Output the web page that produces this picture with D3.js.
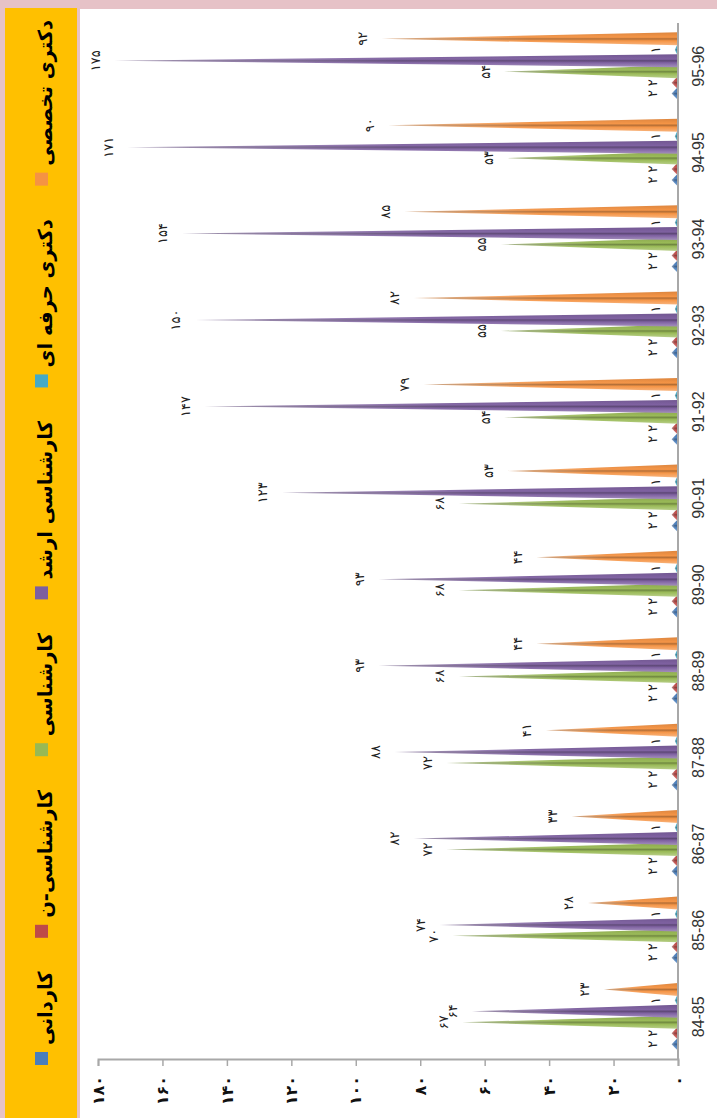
<!DOCTYPE html>
<html><head><meta charset="utf-8">
<script src="https://cdn.jsdelivr.net/npm/d3@7"></script>
<style>body{margin:0;background:#e6c2c7;} svg{display:block}</style>
</head><body>
<svg id="c" width="717" height="1118"></svg>
<script>
// ---- data ----
const categories = ["84-85","85-86","86-87","87-88","88-89","89-90","90-91","91-92","92-93","93-94","94-95","95-96"];
const seriesNames = ["کاردانی","کارشناسی-ن","کارشناسی","کارشناسی ارشد","دکتری حرفه ای","دکتری تخصصی"];
const seriesColors = ["#4a7ebb","#be4b48","#98b954","#7d5fa0","#46aac5","#f59343"];
const kardani          = [2,2,2,2,2,2,2,2,2,2,2,2];
const karshenasiN      = [2,2,2,2,2,2,2,2,2,2,2,2];
const karshenasi       = [67,70,72,72,68,68,68,54,55,55,53,54];
const karshenasiArshad = [64,74,82,88,93,93,123,147,150,154,171,175];
const doktoraHerfei    = [1,1,1,1,1,1,1,1,1,1,1,1];
const doktoraTakhassosi= [23,28,33,41,44,44,53,79,82,85,90,92];
const valueTicks = [0,20,40,60,80,100,120,140,160,180];
const seriesValues = [kardani, karshenasiN, karshenasi, karshenasiArshad, doktoraHerfei, doktoraTakhassosi];

const fa = d => String(d).replace(/\d/g, c => "۰۱۲۳۴۵۶۷۸۹"[+c]);

const svg = d3.select("#c");
const W = 717, H = 1118;
// background panels
svg.append("rect").attr("x",0).attr("y",0).attr("width",W).attr("height",H).attr("fill","#e6c2c7");
svg.append("rect").attr("x",5).attr("y",8).attr("width",72).attr("height",H-8).attr("fill","#ffc000");
svg.append("rect").attr("x",80).attr("y",9).attr("width",W-80).attr("height",H-9).attr("fill","#ffffff");

const defs = svg.append("defs");
// fade mask along spike length
const fg = defs.append("linearGradient").attr("id","fadeG").attr("x1",0).attr("y1",1).attr("x2",0).attr("y2",0);
fg.append("stop").attr("offset",0).attr("stop-color","#fff");
fg.append("stop").attr("offset",0.5).attr("stop-color","#f0f0f0");
fg.append("stop").attr("offset",0.88).attr("stop-color","#999");
fg.append("stop").attr("offset",1).attr("stop-color","#555");
defs.append("mask").attr("id","fade").attr("maskContentUnits","objectBoundingBox")
  .append("rect").attr("x",-0.1).attr("y",-0.1).attr("width",1.2).attr("height",1.2).attr("fill","url(#fadeG)");
seriesColors.forEach((c,i)=>{
  const g = defs.append("linearGradient").attr("id","sg"+i).attr("x1",0).attr("y1",0).attr("x2",1).attr("y2",0);
  const col = d3.color(c);
  g.append("stop").attr("offset",0).attr("stop-color", d3.interpolateRgb(c,"#fff")(0.3));
  g.append("stop").attr("offset",0.35).attr("stop-color", c);
  g.append("stop").attr("offset",0.5).attr("stop-color", col.darker(0.9));
  g.append("stop").attr("offset",0.62).attr("stop-color", c);
  g.append("stop").attr("offset",1).attr("stop-color", col.darker(0.3));
});

// rotated chart frame: screen x = uy, screen y = 1118 - ux
const g = svg.append("g").attr("transform","translate(0,1118) rotate(-90)");

const x = d3.scaleBand().domain(categories).range([58,1095]).padding(0);
const x1 = d3.scaleBand().domain(d3.range(seriesNames.length)).range([x.bandwidth()*0.12, x.bandwidth()*0.88]);
const y = d3.scaleLinear().domain([0,180]).range([678,98]);

// spikes
const hw = 6.5;
seriesValues.forEach((vals, si) => {
  vals.forEach((v, ci) => {
    const cx = x(categories[ci]) + x1(si) + x1.bandwidth()/2;
    const y0 = y(0), yt = y(v);
    g.append("path")
      .attr("d", `M${cx-hw},${y0}L${cx+hw},${y0}L${cx},${yt}Z`)
      .attr("fill","url(#sg"+si+")")
      .attr("mask","url(#fade)");
  });
});

// category axis (horizontal in frame)
g.append("line").attr("x1",58).attr("x2",1095).attr("y1",y(0)).attr("y2",y(0))
  .attr("stroke","#a8a8a8").attr("stroke-width",2);
g.selectAll(".cl").data(categories).enter().append("text")
  .attr("x", d => x(d)+x.bandwidth()/2).attr("y", 700)
  .attr("text-anchor","middle").attr("dominant-baseline","middle")
  .attr("font-family","Liberation Sans, Arial").attr("font-size",16).attr("fill","#333")
  .text(d=>d);

// value axis
const ax = g.append("g").attr("transform","translate(58,0)")
  .call(d3.axisLeft(y).tickValues(valueTicks).tickSize(6).tickPadding(10).tickFormat(fa));
ax.select(".domain").attr("stroke","#a8a8a8").attr("stroke-width",2);
ax.selectAll(".tick line").attr("stroke","#a8a8a8").attr("stroke-width",1.5);
ax.selectAll(".tick text").attr("font-family","DejaVu Sans").attr("font-weight","bold")
  .attr("font-size",16).attr("fill","#111");

// data labels
seriesValues.forEach((vals, si) => {
  vals.forEach((v, ci) => {
    const cx = x(categories[ci]) + x1(si) + x1.bandwidth()/2;
    g.append("text").attr("x",cx).attr("y",y(v)-18)
      .attr("text-anchor","middle").attr("dominant-baseline","middle")
      .attr("font-family","DejaVu Sans").attr("font-size",13)
      .attr("fill","#222").text(fa(v));
  });
});

// legend (top of frame -> left strip on screen)
const lg = g.append("g");
const items = seriesNames.map((n,i)=>{
  const it = lg.append("g");
  it.append("rect").attr("width",13).attr("height",13).attr("y",35).attr("fill",seriesColors[i]);
  const t = it.append("text").attr("x",20).attr("y",46)
    .attr("font-family","DejaVu Sans").attr("font-weight","bold").attr("font-size",19.5)
    .attr("fill","#000").attr("dominant-baseline","middle").text(n);
  return {it, w: 20 + t.node().getComputedTextLength()};
});
const startX = 53, endX = 1098;
const total = d3.sum(items, d=>d.w);
const gap = (endX - startX - total)/(items.length-1);
let cur = startX;
items.forEach(d=>{ d.it.attr("transform",`translate(${cur},0)`); cur += d.w + gap; });
</script>
</body></html>
